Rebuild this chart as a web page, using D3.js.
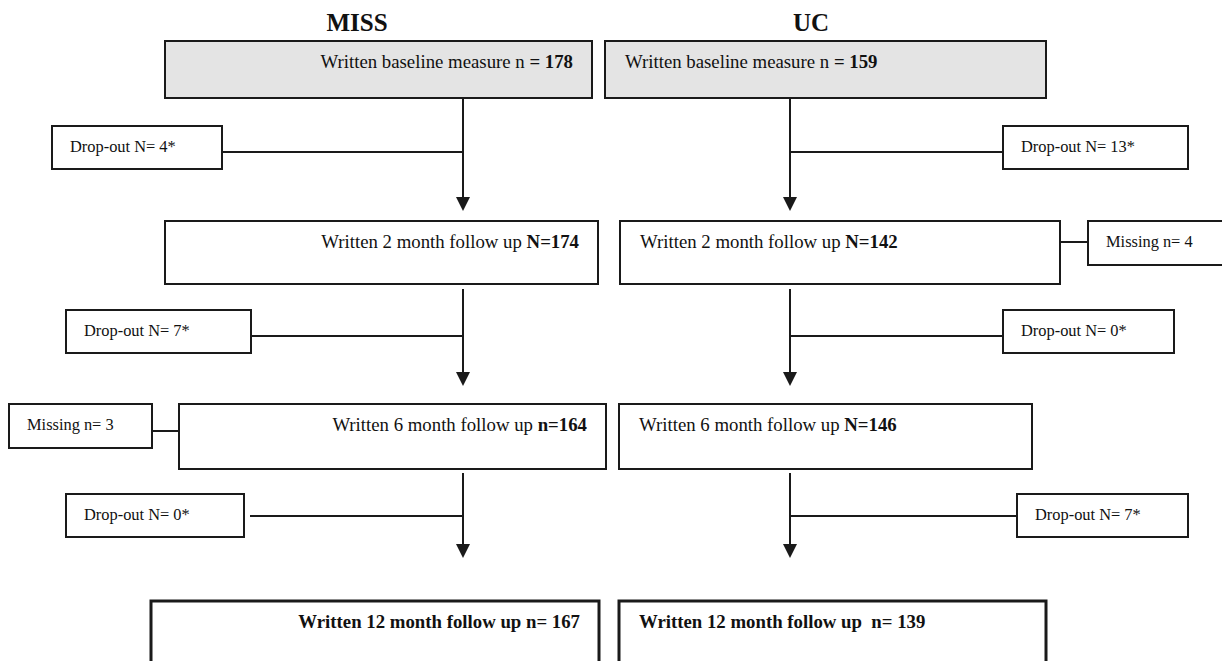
<!DOCTYPE html>
<html>
<head>
<meta charset="utf-8">
<script src="https://cdn.jsdelivr.net/npm/d3@7"></script>
<style>
  body { margin: 0; background: #fff; }
  svg { display: block; font-family: "Liberation Serif", "Times New Roman", serif; }
  text { white-space: pre; }
  .box { fill: #fff; stroke: #1a1a1a; stroke-width: 2; }
  .box.base { fill: #e4e4e4; }
  .box.last { stroke-width: 3; }
  .link { stroke: #1a1a1a; stroke-width: 2; fill: none; }
  .main { font-size: 18.8px; fill: #111; }
  .side { font-size: 16.4px; fill: #111; }
  .title { font-size: 25px; font-weight: bold; fill: #111; }
</style>
</head>
<body>
<svg width="1222" height="661"></svg>
<script>
// data
const groups = ["MISS", "UC"];
const stages = ["Written baseline measure", "Written 2 month follow up", "Written 6 month follow up", "Written 12 month follow up"];
const missLabels = ["n ", "N=", "n=", "n= "];
const missCounts = [178, 174, 164, 167];
const ucLabels = ["n ", "N=", "N=", " n= "];
const ucCounts = [159, 142, 146, 139];
const missDropout = [4, 7, 0];
const ucDropout = [13, 0, 7];
const missMissing = [null, null, 3, null];
const ucMissing = [null, 4, null, null];

const svg = d3.select("svg");

// layout
const rowTop = d3.scaleOrdinal().domain(stages).range([41, 221, 404, 601]);
const rowBottom = d3.scaleOrdinal().domain(stages).range([98, 284, 469, 700]);
const spine = d3.scaleOrdinal().domain(groups).range([463, 790]);
const boxX = {
  MISS: [[165, 592], [165, 598], [179, 606], [151, 599]],
  UC:   [[605, 1046], [620, 1060], [619, 1032], [619, 1046]]
};
// drop-out boxes sit between rows
const gapTop = [126, 310, 494], gapH = 43, gapLine = [152, 336, 516];
const lineStart = [98, 289, 473], arrowTip = [211, 386, 558];
const dropX = {
  MISS: [[52, 222], [66, 251], [66, 244]],
  UC:   [[1003, 1188], [1003, 1174], [1017, 1188]]
};
const missingX = { MISS: [9, 152], UC: [1088, 1230] };
const missingH = 44, missingLine = { MISS: 431, UC: 242 };

// titles
svg.selectAll(".title").data(groups).enter().append("text")
  .attr("class", "title")
  .attr("x", g => (g == "MISS" ? 357 : 811))
  .attr("y", 31)
  .attr("text-anchor", "middle")
  .text(g => g);

function drawGroup(g) {
  const labels = g == "MISS" ? missLabels : ucLabels;
  const counts = g == "MISS" ? missCounts : ucCounts;
  const drops = g == "MISS" ? missDropout : ucDropout;
  const missing = g == "MISS" ? missMissing : ucMissing;
  const sx = spine(g);

  // main boxes
  stages.forEach(function(s, i) {
    const [x0, x1] = boxX[g][i];
    svg.append("rect")
      .attr("class", "box" + (i == 0 ? " base" : "") + (i == 3 ? " last" : ""))
      .attr("x", x0).attr("y", rowTop(s))
      .attr("width", x1 - x0).attr("height", rowBottom(s) - rowTop(s));

    const t = svg.append("text").attr("class", "main")
      .attr("y", rowTop(s) + 27);
    if (g == "MISS") t.attr("x", x1 - 19).attr("text-anchor", "end");
    else t.attr("x", x0 + 20);

    if (i == 3) {
      t.attr("font-weight", "bold").text(s + " " + labels[i] + counts[i]);
    } else if (i == 0) {
      t.append("tspan").text(s + " " + labels[i]);
      t.append("tspan").attr("font-weight", "bold").text("= " + counts[i]);
    } else {
      t.append("tspan").text(s + " ");
      t.append("tspan").attr("font-weight", "bold").text(labels[i] + counts[i]);
    }

    // missing side box
    if (missing[i] != null) {
      const [m0, m1] = missingX[g];
      svg.append("rect").attr("class", "box")
        .attr("x", m0).attr("y", rowTop(s))
        .attr("width", m1 - m0).attr("height", missingH);
      svg.append("text").attr("class", "side")
        .attr("x", m0 + 18).attr("y", rowTop(s) + 26)
        .text("Missing n= " + missing[i]);
      const ly = missingLine[g];
      svg.append("line").attr("class", "link")
        .attr("x1", g == "MISS" ? m1 : x1).attr("x2", g == "MISS" ? x0 : m0)
        .attr("y1", ly).attr("y2", ly);
    }
  });

  // drop-outs + arrows
  drops.forEach(function(d, i) {
    const [d0, d1] = dropX[g][i];
    svg.append("rect").attr("class", "box")
      .attr("x", d0).attr("y", gapTop[i])
      .attr("width", d1 - d0).attr("height", gapH);
    svg.append("text").attr("class", "side")
      .attr("x", d0 + 18).attr("y", gapTop[i] + 26)
      .text("Drop-out N= " + d + "*");

    const edge = g == "MISS" ? (i == 2 ? d1 + 6 : d1) : d0;
    svg.append("line").attr("class", "link")
      .attr("x1", edge).attr("x2", sx)
      .attr("y1", gapLine[i]).attr("y2", gapLine[i]);

    svg.append("line").attr("class", "link")
      .attr("x1", sx).attr("x2", sx)
      .attr("y1", lineStart[i]).attr("y2", arrowTip[i] - 10);
    svg.append("path")
      .attr("fill", "#1a1a1a")
      .attr("d", d3.line()([[sx - 7, arrowTip[i] - 14], [sx + 7, arrowTip[i] - 14], [sx, arrowTip[i]]]) + "Z");
  });
}

groups.forEach(drawGroup);
</script>
</body>
</html>
